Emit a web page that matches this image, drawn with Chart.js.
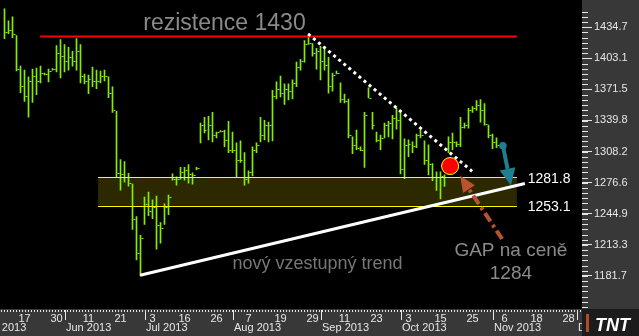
<!DOCTYPE html>
<html>
<head>
<meta charset="utf-8">
<script src="https://cdn.jsdelivr.net/npm/chart.js@4.4.1/dist/chart.umd.min.js"></script>
<style>
  html, body { margin: 0; padding: 0; background: #000; }
  canvas { display: block; }
</style>
</head>
<body>
<canvas id="chart" width="639" height="336"></canvas>
<script>
// ── Data (index 0 = 10 May 2013, one step per trading day) ─────
const highs = [
  1456, 1441, 1445, 1426, 1395, 1391, 1384, 1392, 1393, 1395,
  1388, 1392, 1392.5, 1416, 1422, 1417, 1414, 1410, 1423, 1417,
  1387, 1386, 1394, 1391, 1390, 1391, 1384, 1374, 1349, 1300,
  1298, 1286, 1275, 1242, 1223, 1262, 1267, 1259, 1263, 1236,
  1255, 1264, 1285.5, 1282.5, 1292, 1292, 1295, 1286.5, 1292, 1337,
  1343, 1344, 1348, 1328, 1329.5, 1330, 1339, 1328, 1317, 1319,
  1307, 1288.5, 1313, 1317, 1343, 1340, 1338, 1370.5, 1379, 1385,
  1377, 1377, 1381, 1399, 1402, 1421, 1426, 1418, 1413, 1415,
  1414, 1404, 1388, 1390, 1378, 1366.5, 1361.6, 1323, 1330, 1313,
  1348, 1373, 1348, 1328, 1325, 1337, 1339, 1345, 1352, 1350,
  1321, 1320, 1318, 1326, 1330, 1319, 1315, 1296, 1287.5, 1287.5,
  1284.5, 1323, 1327, 1318, 1343, 1337, 1352, 1354, 1360, 1361,
  1357, 1335, 1326, 1322
];
const lows = [
  1423, 1428, 1424, 1390, 1368, 1359, 1343, 1358, 1366, 1378,
  1386, 1379, 1391, 1389, 1383, 1389, 1391, 1395, 1391, 1378,
  1377, 1367, 1374, 1372, 1378, 1380, 1363, 1348, 1282, 1269,
  1277, 1273, 1229, 1198, 1182, 1234, 1243, 1240, 1209, 1215,
  1234, 1244, 1279, 1274, 1280, 1279, 1276, 1275, 1289.5, 1317,
  1327, 1320, 1318, 1322, 1328, 1313, 1307, 1307, 1282.5, 1297,
  1274, 1276, 1283.5, 1307, 1318, 1320, 1318, 1319, 1361.6, 1363.6,
  1356, 1360.6, 1361.6, 1374, 1391, 1399, 1417, 1405, 1392, 1381,
  1391, 1367.5, 1369.5, 1387, 1358, 1357.6, 1322, 1306, 1310, 1309,
  1292, 1362.6, 1331, 1318, 1310, 1322, 1323, 1321, 1331, 1285.5,
  1280.6, 1303, 1307, 1312, 1322, 1295, 1284.5, 1278.6, 1268.7, 1260,
  1272.7, 1307, 1310, 1313, 1313, 1332, 1332, 1348, 1350, 1338,
  1335, 1322, 1311, 1312
];
const closes = [
  1430, 1432, 1428, 1392, 1375, 1365, 1380, 1385, 1380, 1388,
  1387, 1390, 1392, 1408, 1405, 1400, 1404, 1400, 1410, 1385,
  1380, 1382, 1380, 1380, 1385, 1385, 1368, 1350, 1286, 1285,
  1282, 1276, 1240, 1205, 1220, 1255, 1248, 1252, 1233, 1230,
  1252, 1262, 1280, 1280, 1287, 1289, 1285, 1284, 1291, 1335,
  1330, 1335, 1325, 1328, 1329, 1320, 1310, 1310, 1300, 1300,
  1280, 1287, 1310, 1315, 1325, 1335, 1335, 1365, 1372, 1368,
  1372, 1370, 1378, 1394, 1400, 1418, 1419, 1408, 1410, 1400,
  1396, 1375, 1386, 1388, 1362, 1360, 1325, 1315, 1312, 1310,
  1345, 1363, 1335, 1320, 1322, 1335, 1337, 1342, 1340, 1290,
  1315, 1316, 1314, 1325, 1325, 1300, 1295, 1282, 1282, 1283,
  1282, 1318, 1318, 1316, 1333, 1335, 1350, 1352, 1355, 1350,
  1336, 1325, 1318, 1315
];

// ── Axis labels ────────────────────────────────────────────────
const dayTickIdx    = [5, 13, 21, 29, 37, 45, 53, 61, 69, 77, 85, 93, 101, 109, 117, 125, 133, 141];
const dayTickLabels = ['17', '30', '11', '21', '3', '16', '26', '7', '19', '29', '11', '23', '3', '15', '25', '6', '18', '28'];
const monthIdx      = [-7, 15, 35, 57, 79, 99, 122, 143];
const monthLabels   = ['May 2013', 'Jun 2013', 'Jul 2013', 'Aug 2013', 'Sep 2013', 'Oct 2013', 'Nov 2013', 'Dec 2013'];
const yTicks        = [1181.7, 1213.3, 1244.9, 1276.6, 1308.2, 1339.8, 1371.5, 1403.1, 1434.7];

// ── Annotations (trading-day index, price) ─────────────────────
const resistance = { value: 1425, from: 8.9, to: 128.1 };
const zone       = { lo: 1253.1, hi: 1281.8, from: 23.4, to: 128.1 };
const trendLine  = [[33.9, 1182.4], [130.1, 1275.6]];
const downLine   = [[75.9, 1427.8], [116.9, 1288.1]];
const gapDot     = [111.4, 1293.4];
const tealArrow  = [[124.6, 1314.1], [126.6, 1273.6]];
const gapArrow   = [[124.4, 1219.3], [113.9, 1283.5]];

const BAR   = '#80f000';
const PANEL = '#383838';
const FONT  = "'Liberation Sans', Arial, sans-serif";

function arrow(ctx, x1, y1, x2, y2, color, width, dash, headLen, headHalf) {
  const ang = Math.atan2(y2 - y1, x2 - x1);
  const bx = x2 - headLen * Math.cos(ang), by = y2 - headLen * Math.sin(ang);
  ctx.strokeStyle = color;
  ctx.lineWidth = width;
  ctx.setLineDash(dash);
  ctx.beginPath(); ctx.moveTo(x1, y1); ctx.lineTo(bx, by); ctx.stroke();
  ctx.setLineDash([]);
  ctx.fillStyle = color;
  ctx.beginPath();
  ctx.moveTo(x2, y2);
  ctx.lineTo(bx + headHalf * Math.sin(ang), by - headHalf * Math.cos(ang));
  ctx.lineTo(bx - headHalf * Math.sin(ang), by + headHalf * Math.cos(ang));
  ctx.closePath();
  ctx.fill();
}

const overlay = {
  id: 'overlay',
  beforeDraw(chart) {
    const { ctx, chartArea: a, width, height } = chart;
    ctx.save();
    ctx.fillStyle = '#000';
    ctx.fillRect(0, 0, width, height);
    ctx.fillStyle = PANEL;
    ctx.fillRect(a.right, 0, width - a.right, height);
    ctx.fillRect(0, a.bottom, width, height - a.bottom);
    ctx.restore();
  },
  beforeDatasetsDraw(chart) {
    const { ctx } = chart;
    const xs = chart.scales.x, ys = chart.scales.y;
    ctx.save();
    ctx.fillStyle = '#2c2900';
    const x1 = xs.getPixelForValue(zone.from), x2 = xs.getPixelForValue(zone.to);
    const y1 = ys.getPixelForValue(zone.hi), y2 = ys.getPixelForValue(zone.lo);
    ctx.fillRect(x1, y1, x2 - x1, y2 - y1);
    ctx.restore();
  },
  afterDatasetsDraw(chart) {
    const { ctx, chartArea: a } = chart;
    const xs = chart.scales.x, ys = chart.scales.y;
    const px = v => xs.getPixelForValue(v), py = v => ys.getPixelForValue(v);
    ctx.save();
    ctx.beginPath(); ctx.rect(a.left, a.top, a.right - a.left, a.bottom - a.top); ctx.clip();

    // close ticks
    ctx.fillStyle = BAR;
    closes.forEach((c, i) => {
      ctx.fillRect(Math.round(px(i)) + 0.5, Math.round(py(c)), 2, 1);
    });

    // support zone borders
    ctx.strokeStyle = '#ffff00';
    ctx.lineWidth = 1;
    [zone.hi, zone.lo].forEach(v => {
      const y = Math.round(py(v)) + 0.5;
      ctx.beginPath(); ctx.moveTo(px(zone.from), y); ctx.lineTo(px(zone.to), y); ctx.stroke();
    });

    // resistance
    ctx.strokeStyle = '#ff0000';
    ctx.lineWidth = 2;
    ctx.beginPath();
    ctx.moveTo(px(resistance.from), py(resistance.value));
    ctx.lineTo(px(resistance.to), py(resistance.value));
    ctx.stroke();

    // rising trend
    ctx.strokeStyle = '#ffffff';
    ctx.lineWidth = 3;
    ctx.beginPath();
    ctx.moveTo(px(trendLine[0][0]), py(trendLine[0][1]));
    ctx.lineTo(px(trendLine[1][0]), py(trendLine[1][1]));
    ctx.stroke();

    // falling dotted line
    ctx.lineWidth = 3;
    ctx.setLineDash([3, 3.6]);
    ctx.beginPath();
    ctx.moveTo(px(downLine[0][0]), py(downLine[0][1]));
    ctx.lineTo(px(downLine[1][0]), py(downLine[1][1]));
    ctx.stroke();
    ctx.setLineDash([]);

    // gap dot
    ctx.fillStyle = '#ff0000';
    ctx.strokeStyle = '#ffff00';
    ctx.lineWidth = 1;
    ctx.beginPath();
    ctx.arc(px(gapDot[0]), py(gapDot[1]), 8.5, 0, Math.PI * 2);
    ctx.fill(); ctx.stroke();

    // teal arrow
    const t0x = px(tealArrow[0][0]), t0y = py(tealArrow[0][1]);
    arrow(ctx, t0x, t0y, px(tealArrow[1][0]), py(tealArrow[1][1]), '#1f7f8e', 4, [], 17, 8);
    ctx.fillStyle = '#1f7f8e';
    ctx.beginPath(); ctx.arc(t0x, t0y, 3.8, 0, Math.PI * 2); ctx.fill();

    // gap arrow (dash-dot)
    arrow(ctx, px(gapArrow[0][0]), py(gapArrow[0][1]), px(gapArrow[1][0]), py(gapArrow[1][1]),
      '#b9532f', 4, [10, 4, 3, 4], 16, 7);

    // texts
    ctx.textAlign = 'center';
    ctx.textBaseline = 'alphabetic';
    ctx.fillStyle = '#8a8a8a';
    ctx.font = '23px ' + FONT;
    ctx.fillText('rezistence 1430', px(55), py(1431.8));
    ctx.fillStyle = '#777777';
    ctx.font = '18px ' + FONT;
    ctx.fillText('nový vzestupný trend', px(78.25), py(1188.6));
    ctx.fillStyle = '#8a8a8a';
    ctx.font = '19px ' + FONT;
    ctx.fillText('GAP na ceně', px(126.6), py(1201.5));
    ctx.fillText('1284', px(126.6), py(1178.7));

    ctx.textAlign = 'left';
    ctx.textBaseline = 'middle';
    ctx.fillStyle = '#ffffff';
    ctx.font = '14px ' + FONT;
    ctx.fillText(zone.hi.toFixed(1), px(130.8), py(zone.hi) + 1.5);
    ctx.fillText(zone.lo.toFixed(1), px(130.8), py(zone.lo) + 1.5);
    ctx.restore();
  },
  afterDraw(chart) {
    const { ctx, chartArea: a, width, height } = chart;
    const xs = chart.scales.x, ys = chart.scales.y;
    ctx.save();
    ctx.fillStyle = '#e6e6e6';

    // minor ticks on price axis
    const step = (yTicks[1] - yTicks[0]) / 6;
    for (let v = yTicks[0] - 12 * step; v < ys.max; v += step) {
      const y = Math.round(ys.getPixelForValue(v));
      if (y < 0 || y > a.bottom) continue;
      ctx.fillRect(a.right, y, 6, 1);
    }

    // small day marks along the time axis
    for (let x = 1; x < a.right; x += 3) ctx.fillRect(x, a.bottom + 1, 1, 2);

    // month boundaries + labels
    ctx.beginPath(); ctx.rect(0, a.bottom, a.right, height - a.bottom); ctx.clip();
    ctx.font = '11px ' + FONT;
    ctx.textAlign = 'left';
    ctx.textBaseline = 'alphabetic';
    monthIdx.forEach((m, i) => {
      const x = Math.round(xs.getPixelForValue(m));
      ctx.fillRect(x, a.bottom + 1, 1, 10);
      ctx.fillText(monthLabels[i], x + 1, a.bottom + 21.5);
    });
    ctx.restore();

    // logo corner
    ctx.save();
    ctx.fillStyle = '#1c1c1c';
    ctx.fillRect(a.right, a.bottom, width - a.right, height - a.bottom);
    ctx.fillStyle = '#b04a2a';
    ctx.fillRect(a.right + 4, a.bottom + 5, 3, 18);
    ctx.fillStyle = '#ffffff';
    ctx.font = 'italic bold 18px ' + FONT;
    ctx.textAlign = 'left';
    ctx.textBaseline = 'alphabetic';
    ctx.fillText('TNT', a.right + 13, height - 5);
    ctx.restore();
  }
};

new Chart(document.getElementById('chart'), {
  type: 'bar',
  data: {
    datasets: [{
      data: highs.map((h, i) => ({ x: i, y: [lows[i], h] })),
      backgroundColor: BAR,
      borderWidth: 0,
      barThickness: 1,
    }],
  },
  options: {
    responsive: false,
    animation: false,
    devicePixelRatio: 1,
    layout: { padding: 0 },
    plugins: { legend: { display: false }, tooltip: { enabled: false } },
    scales: {
      x: {
        type: 'linear',
        min: -1.125,
        max: 144.375,
        offset: false,
        afterFit: s => { s.height = 27; },
        afterBuildTicks: s => { s.ticks = dayTickIdx.map(v => ({ value: v })); },
        border: { display: false },
        grid: { drawOnChartArea: false, drawTicks: false },
        ticks: {
          autoSkip: false,
          maxRotation: 0,
          padding: 3,
          color: '#e6e6e6',
          font: { family: FONT, size: 11 },
          callback: v => dayTickLabels[dayTickIdx.indexOf(v)] ?? '',
        },
      },
      y: {
        position: 'right',
        min: 1148.1,
        max: 1453.48,
        afterFit: s => { s.width = 57; },
        afterBuildTicks: s => { s.ticks = yTicks.map(v => ({ value: v })); },
        border: { display: false },
        grid: { drawOnChartArea: false, drawTicks: true, tickLength: 10, color: '#e6e6e6' },
        ticks: {
          padding: 2,
          color: '#e6e6e6',
          font: { family: FONT, size: 11 },
          callback: v => v.toFixed(1),
        },
      },
    },
  },
  plugins: [overlay],
});
</script>
</body>
</html>
